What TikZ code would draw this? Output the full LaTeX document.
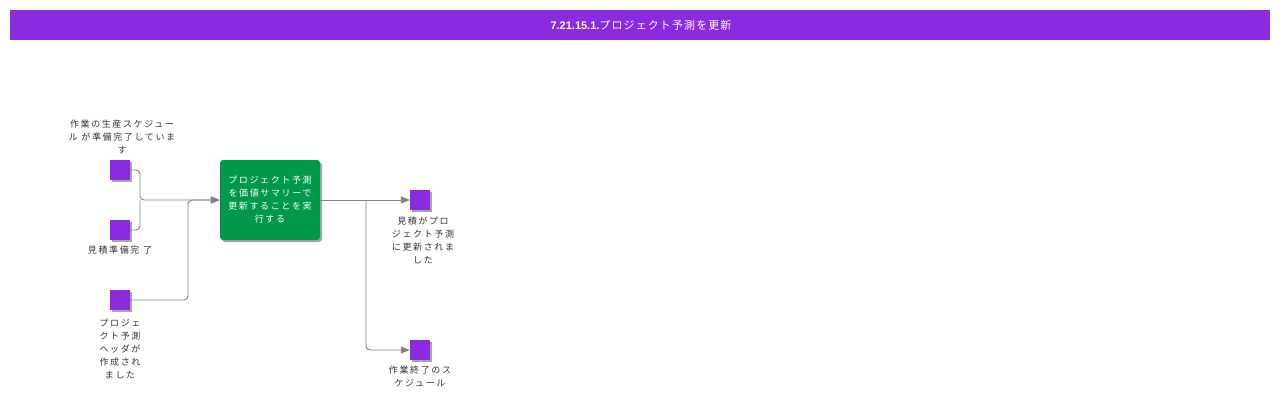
\documentclass[tikz,border=0pt]{standalone}
\usepackage{fontspec}
\newfontfamily\jp[LetterSpace=18]{Noto Sans CJK JP}
\newfontfamily\jptitle[LetterSpace=10]{Noto Sans CJK JP}
\newfontfamily\lsans{Liberation Sans}
\usetikzlibrary{arrows.meta,shadows}
\definecolor{hdr}{HTML}{8A2BE2}
\definecolor{ev}{HTML}{8A2BE2}
\definecolor{tk}{HTML}{00994A}
\definecolor{ln}{HTML}{808080}
\definecolor{tx}{HTML}{333333}
\tikzset{
  evbox/.style={fill=ev, minimum width=20pt, minimum height=20pt, inner sep=0pt,
    drop shadow={shadow xshift=2pt, shadow yshift=-2pt, opacity=0.35, fill=black}},
  taskbox/.style={fill=tk, rounded corners=3pt, minimum width=100pt, minimum height=80pt, inner sep=0pt,
    drop shadow={shadow xshift=2pt, shadow yshift=-2pt, opacity=0.35, fill=black}},
  lbl/.style={font=\jp\fontsize{9}{13}\selectfont, text=tx, align=center, inner sep=0pt},
  conn/.style={draw=ln, line width=0.9pt, rounded corners=4pt},
  arr/.style={-{Triangle[length=9pt,width=7pt]}}
}
\begin{document}
\begin{tikzpicture}[x=1pt,y=-1pt]
\useasboundingbox (0,0) rectangle (1280,400);
\fill[white] (0,0) rectangle (1280,400);
% header
\node[fill=hdr, minimum width=1260pt, minimum height=30pt, inner sep=0pt] (hdr) at (640,25) {};
\node[text=white, font=\fontsize{11}{13}\selectfont] (title) at (641,25) {\lsans\bfseries 7.21.15.1.\jptitle\mdseries プロジェクト予測を更新};
% events
\node[evbox] (s1) at (120,170) {};
\node[evbox] (s2) at (120,230) {};
\node[evbox] (s3) at (120,300) {};
\node[evbox] (o1) at (420,200) {};
\node[evbox] (o2) at (420,350) {};
% task
\node[taskbox] (task) at (270,200) {};
\node[lbl, text=white] (tasktxt) at (270,200) {プロジェクト予測\\を価値サマリーで\\更新することを実\\行する};
% labels
\node[lbl, anchor=south] (l1) at (122,154) {作業の生産スケジュー\\ル が準備完了していま\\す};
\node[lbl, anchor=north] (l2) at (120,246) {見積準備完 了};
\node[lbl, anchor=north] (l3) at (120,319) {プロジェ\\クト予測\\ヘッダが\\作成され\\ました};
\node[lbl, anchor=north] (l4) at (423,217) {見積がプロ\\ジェクト予測\\に更新されま\\した};
\node[lbl, anchor=north] (l5) at (420,366) {作業終了のス\\ケジュール};
% junctions
\coordinate (j1) at (140,200);
\coordinate (j2) at (188,200);
\coordinate (j3) at (366,200);
% connectors
\draw[conn, arr] (s1.east) -| (j1) -- (task.west);
\draw[conn] (s2.east) -| (j1);
\draw[conn, arr] (s3.east) -| (j2) -- (task.west);
\draw[conn, arr] (task.east) -- (o1.west);
\draw[conn, arr] (j3) |- (o2.west);
\end{tikzpicture}
\end{document}
